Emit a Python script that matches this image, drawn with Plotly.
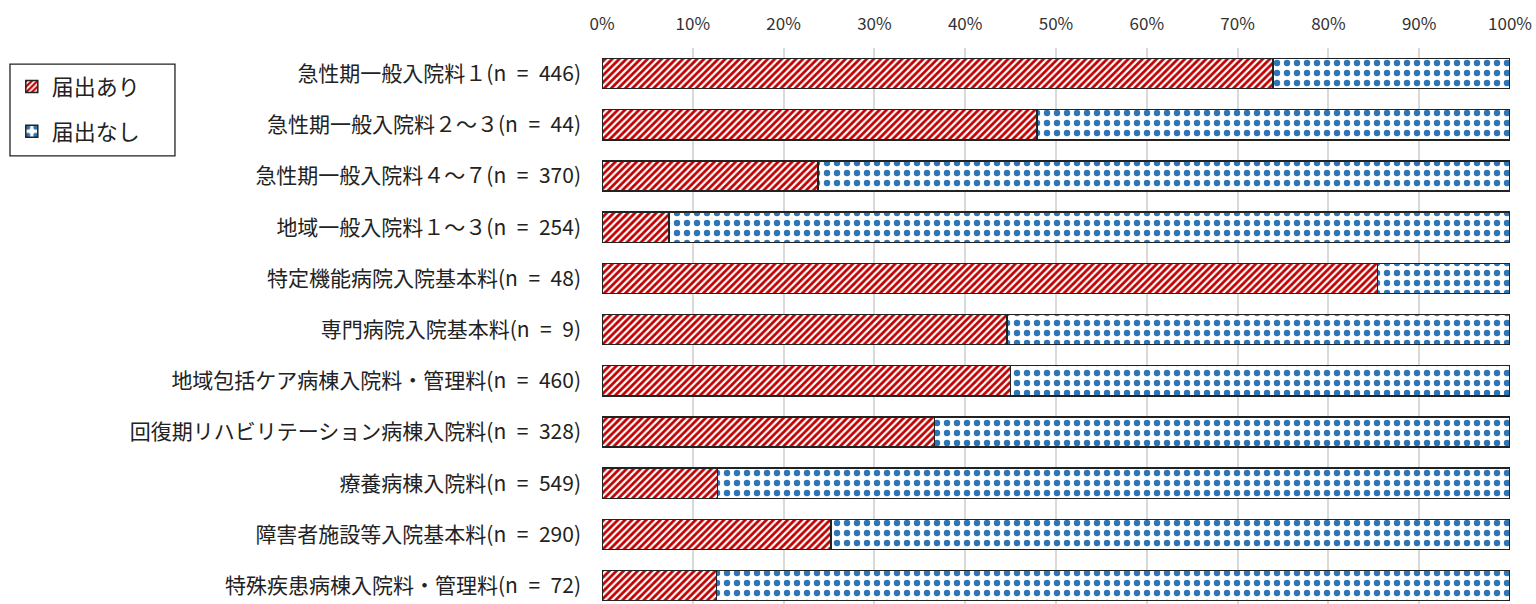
import plotly.graph_objects as go

categories = [
    "急性期一般入院料１(n\u2002=\u2002446)",
    "急性期一般入院料２～３(n\u2002=\u200244)",
    "急性期一般入院料４～７(n\u2002=\u2002370)",
    "地域一般入院料１～３(n\u2002=\u2002254)",
    "特定機能病院入院基本料(n\u2002=\u200248)",
    "専門病院入院基本料(n\u2002=\u20029)",
    "地域包括ケア病棟入院料・管理料(n\u2002=\u2002460)",
    "回復期リハビリテーション病棟入院料(n\u2002=\u2002328)",
    "療養病棟入院料(n\u2002=\u2002549)",
    "障害者施設等入院基本料(n\u2002=\u2002290)",
    "特殊疾患病棟入院料・管理料(n\u2002=\u200272)",
]
ari = [73.9, 47.9, 23.8, 7.4, 85.4, 44.6, 45.0, 36.6, 12.7, 25.2, 12.6]
nashi = [round(100 - v, 1) for v in ari]
series_names = ["届出あり", "届出なし"]
x_ticks = list(range(0, 101, 10))

font_family = "Noto Sans CJK JP, Noto Sans, sans-serif"

fig = go.Figure()
fig.add_trace(go.Bar(
    y=categories, x=ari, orientation="h", name=series_names[0],
    legendgroup="a",
    marker=dict(color="white", line=dict(color="#222222", width=1.5),
                pattern=dict(shape="/", fgcolor="#c00000", bgcolor="white",
                             fgopacity=1, size=5, solidity=0.55,
                             fillmode="replace")),
    hoverinfo="x+y",
))
fig.add_trace(go.Bar(
    y=categories, x=nashi, orientation="h", name=series_names[1],
    legendgroup="b",
    marker=dict(color="white", line=dict(color="#222222", width=1.5),
                pattern=dict(shape=".", fgcolor="#2e75b6", bgcolor="white",
                             fgopacity=1, size=10, solidity=0.32,
                             fillmode="replace")),
    hoverinfo="x+y",
))

# legend frame
fig.add_shape(type="rect", xref="paper", yref="paper",
              x0=-0.652, x1=-0.4703, y0=0.806, y1=0.971,
              line=dict(color="#222222", width=1.3), fillcolor="rgba(0,0,0,0)",
              layer="above")

fig.update_layout(
    width=1536, height=604,
    barmode="stack", bargap=0.41,
    paper_bgcolor="white", plot_bgcolor="white",
    margin=dict(l=602, r=26, t=48, b=0),
    font=dict(family=font_family, size=17, color="#333333"),
    legend=dict(
        x=-0.650, xanchor="left", y=0.968, yanchor="top",
        borderwidth=0, bgcolor="rgba(0,0,0,0)",
        font=dict(size=22, color="#222222"),
        traceorder="grouped", tracegroupgap=13,
        itemwidth=30,
    ),
    xaxis=dict(
        side="top", range=[0, 100], tickvals=x_ticks,
        ticktext=[f"{v}%" for v in x_ticks],
        showgrid=True, gridcolor="#d9d9d9", gridwidth=1.5,
        zeroline=False, showline=False, ticks="",
        ticklabelstandoff=14,
        tickfont=dict(size=17, color="#333333"),
        fixedrange=True,
    ),
    yaxis=dict(
        categoryorder="array", categoryarray=categories,
        range=[10.36, -0.5],
        showgrid=False, zeroline=False, showline=False, ticks="",
        ticklabelstandoff=20,
        tickfont=dict(size=21, color="#222222"),
        fixedrange=True,
    ),
)

fig.write_html("out.html")
